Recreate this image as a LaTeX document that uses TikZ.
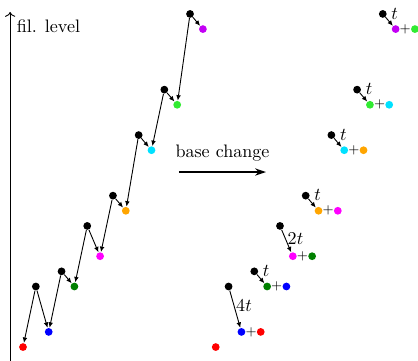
\documentclass[tikz,border=0pt]{standalone}
\usetikzlibrary{arrows.meta}
\definecolor{cred}{RGB}{255,0,0}
\definecolor{cblue}{RGB}{0,0,255}
\definecolor{cdkgreen}{RGB}{0,128,0}
\definecolor{cmagenta}{RGB}{255,0,255}
\definecolor{corange}{RGB}{255,165,0}
\definecolor{ccyan}{RGB}{0,225,255}
\definecolor{cgreen}{RGB}{50,235,50}
\definecolor{cpurple}{RGB}{195,0,245}

\begin{document}
\begin{tikzpicture}[x=0.25cm,y=0.2946cm,
    blob/.style={circle,fill=#1,inner sep=0pt,minimum size=4.3pt},
    jump/.style={line width=0.5pt,-{Latex[length=3pt,width=2.6pt]}},
    plus/.style={inner sep=0pt,font=\scriptsize},
    lbl/.style={inner sep=1pt}]
    \useasboundingbox (-0.79,-0.92) rectangle (31.74,22.92);
    % filtration axis
    \coordinate (axisbot) at (0,-1);
    \coordinate (axistop) at (0,22.13);
    \draw[line width=0.5pt,->] (axisbot) -- (axistop);
    \node[anchor=west,inner sep=1pt] (fil) at (0.35,21.17) {fil. level};

    \begin{scope} % before the base change
        \node[blob=cred] (r0) at (1,0) {};
        \node[blob=black] (k1) at (2,4) {};
        \node[blob=cblue] (b0) at (3,1) {};
        \node[blob=black] (k2) at (4,5) {};
        \node[blob=cdkgreen] (d0) at (5,4) {};
        \node[blob=black] (k3) at (6,8) {};
        \node[blob=cmagenta] (m0) at (7,6) {};
        \node[blob=black] (k4) at (8,10) {};
        \node[blob=corange] (o0) at (9,9) {};
        \node[blob=black] (k5) at (10,14) {};
        \node[blob=ccyan] (c0) at (11,13) {};
        \node[blob=black] (k6) at (12,17) {};
        \node[blob=cgreen] (g0) at (13,16) {};
        \node[blob=black] (k7) at (14,22) {};
        \node[blob=cpurple] (p0) at (15,21) {};
        % every black generator hits the dot below left and below right
        \draw[jump] (k1) -- (r0);
        \draw[jump] (k1) -- (b0);
        \draw[jump] (k2) -- (b0);
        \draw[jump] (k2) -- (d0);
        \draw[jump] (k3) -- (d0);
        \draw[jump] (k3) -- (m0);
        \draw[jump] (k4) -- (m0);
        \draw[jump] (k4) -- (o0);
        \draw[jump] (k5) -- (o0);
        \draw[jump] (k5) -- (c0);
        \draw[jump] (k6) -- (c0);
        \draw[jump] (k6) -- (g0);
        \draw[jump] (k7) -- (g0);
        \draw[jump] (k7) -- (p0);
    \end{scope}

    % the arrow in the middle
    \coordinate (bcstart) at (13.14,11.56);
    \coordinate (bcend) at (19.91,11.56);
    \draw[line width=0.8pt,-{Stealth[length=6pt,width=4pt]}] (bcstart) -- node[above=2pt] (bc) {base change} (bcend);

    % same picture, shifted to the right by 15 units
    \begin{scope}[xshift=3.75cm] % after the base change
        \node[blob=cred] (rr0) at (1,0) {};
        \node[blob=black] (kk1) at (2,4) {};
        \node[blob=cblue] (bb1) at (3,1) {};
        \node[plus] (pl1) at (3.75,1) {$+$};
        \node[blob=cred] (rr1) at (4.5,1) {};
        \node[blob=black] (kk2) at (4,5) {};
        \node[blob=cdkgreen] (dd2) at (5,4) {};
        \node[plus] (pl2) at (5.75,4) {$+$};
        \node[blob=cblue] (bb2) at (6.5,4) {};
        \node[blob=black] (kk3) at (6,8) {};
        \node[blob=cmagenta] (mm3) at (7,6) {};
        \node[plus] (pl3) at (7.75,6) {$+$};
        \node[blob=cdkgreen] (dd3) at (8.5,6) {};
        \node[blob=black] (kk4) at (8,10) {};
        \node[blob=corange] (oo4) at (9,9) {};
        \node[plus] (pl4) at (9.75,9) {$+$};
        \node[blob=cmagenta] (mm4) at (10.5,9) {};
        \node[blob=black] (kk5) at (10,14) {};
        \node[blob=ccyan] (cc5) at (11,13) {};
        \node[plus] (pl5) at (11.75,13) {$+$};
        \node[blob=corange] (oo5) at (12.5,13) {};
        \node[blob=black] (kk6) at (12,17) {};
        \node[blob=cgreen] (gg6) at (13,16) {};
        \node[plus] (pl6) at (13.75,16) {$+$};
        \node[blob=ccyan] (cc6) at (14.5,16) {};
        \node[blob=black] (kk7) at (14,22) {};
        \node[blob=cpurple] (pp7) at (15,21) {};
        \node[plus] (pl7) at (15.75,21) {$+$};
        \node[blob=cgreen] (gg7) at (16.5,21) {};
        % only one arrow left per generator, with its length
        \draw[jump] (kk1) -- node[lbl,right,pos=0.4] {$4t$} (bb1);
        \draw[jump] (kk2) -- node[lbl,above right] {$t$} (dd2);
        \draw[jump] (kk3) -- node[lbl,right,pos=0.4] {$2t$} (mm3);
        \draw[jump] (kk4) -- node[lbl,above right] {$t$} (oo4);
        \draw[jump] (kk5) -- node[lbl,above right] {$t$} (cc5);
        \draw[jump] (kk6) -- node[lbl,above right] {$t$} (gg6);
        \draw[jump] (kk7) -- node[lbl,above right] {$t$} (pp7);
    \end{scope}
\end{tikzpicture}
\end{document}
